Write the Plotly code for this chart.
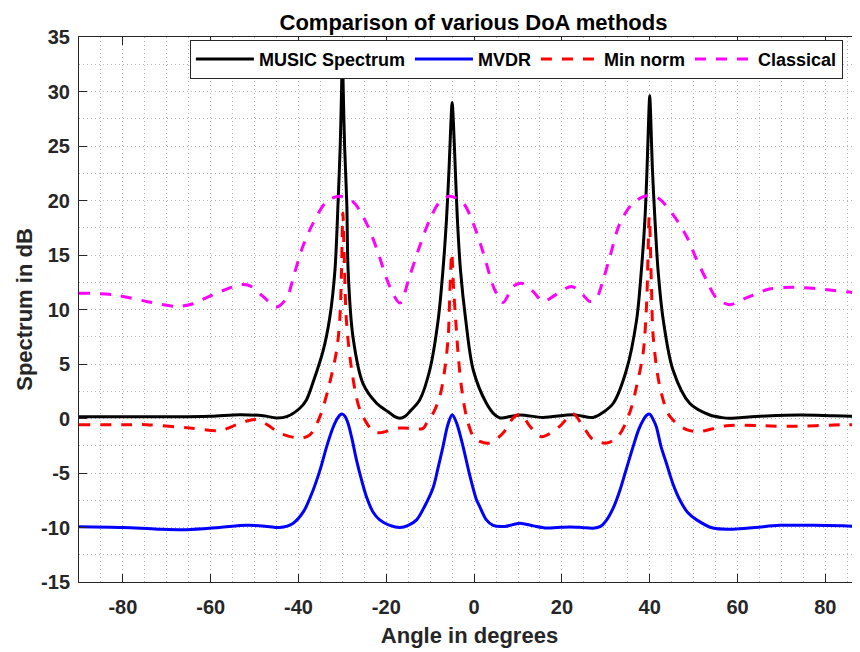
import plotly.graph_objects as go

# ---------------- data ----------------
music_angles = [-90, -80, -70, -60, -53.4, -48, -45, -42.7, -39.7, -38.2, -36.7, -34.4, -32.9,
                -31.7, -31.0, -30.5, -30.2, -30.0, -29.8, -29.5, -29.0, -28.7, -27.6, -25.3,
                -22.2, -19.5, -18.2, -16.9, -15.7, -14.5, -12.4, -10.1, -8.2, -7.1, -6.3, -5.7,
                -5.3, -5.0, -4.7, -4.3, -3.8, -3.1, -1.9, -0.2, 2.8, 4.8, 5.9, 7.2, 10.4, 15.7,
                22.6, 27.1, 29.5, 31.7, 34.7, 37.0, 38.1, 38.9, 39.4, 39.8, 40.0, 40.2, 40.6,
                41.2, 41.9, 43.1, 45.3, 49.1, 53.7, 56.5, 58.2, 60.5, 66.6, 74.2, 82, 90]
music_values = [0.17, 0.17, 0.15, 0.2, 0.35, 0.25, 0.05, 0.17, 0.94, 1.7, 3.3, 6.2, 9.2,
                13.6, 19.7, 25, 30, 33.5, 30, 25, 19.7, 13.6, 7.5, 3.2,
                1.4, 0.6, 0.2, 0.02, 0.2, 0.7, 1.7, 4.45, 9.0, 13.6, 18.2, 23,
                27, 29, 27, 23, 18.2, 13.6, 9.0, 4.45, 1.4, 0.3, 0.05, 0.1, 0.32, 0.1,
                0.35, 0.1, 0.6, 1.4, 4.45, 9.0, 13.6, 18.2, 23, 28, 29.6, 28, 23,
                18.2, 13.6, 9.0, 4.45, 1.4, 0.32, 0.08, 0.02, 0.08, 0.23, 0.32, 0.25, 0.17]

mvdr_angles = [-90, -80, -72, -65.5, -58, -51.8, -47, -44.3, -41.2, -38.8, -36.7, -35, -33.6,
               -32.2, -31.3, -30.6, -30.0, -29.4, -28.7, -27.8, -26.8, -25.6, -24.5, -23,
               -21.5, -19.2, -16.9, -15, -13.1, -11.2, -9.3, -8.2, -7.1, -6.0, -5.0, -4.0,
               -2.5, -1.0, 0.5, 1.3, 2.8, 4.3, 7, 10.4, 13.5, 16.5, 19, 21.8, 24.5, 27.1,
               28.8, 30.2, 31.7, 33.2, 34.7, 36.2, 37.5, 38.5, 39.3, 40.0, 40.8, 41.5, 42.6,
               43.8, 45.3, 46.9, 48.6, 50.7, 54.4, 59.0, 64, 69.6, 77.2, 84, 90]
mvdr_values = [-9.93, -10.0, -10.15, -10.2, -10.0, -9.8, -9.9, -10.0, -9.6, -8.5, -6.6, -4.6, -2.6,
               -0.9, -0.1, 0.3, 0.4, 0.2, -0.45, -1.9, -3.8, -5.7, -7.2, -8.6,
               -9.3, -9.8, -10.0, -9.8, -9.3, -8.0, -6.3, -4.5, -2.6, -0.6, 0.35, -0.4,
               -2.6, -5.2, -7.4, -8.1, -9.3, -9.8, -9.9, -9.6, -9.85, -10.05, -10.0, -9.95, -10.0, -10.07,
               -9.9, -9.3, -8.2, -6.6, -4.6, -2.6, -1.0, -0.15, 0.3, 0.4, -0.1, -0.75, -2.6,
               -4.1, -6.0, -7.5, -8.6, -9.3, -10.05, -10.15, -10.0, -9.8, -9.8, -9.85, -9.93]

minnorm_angles = [-90, -80, -74.6, -64.8, -57.9, -54.1, -51.5, -49.6, -47, -44.3, -39.7, -37.4,
                  -35.1, -32.9, -31.3, -30.6, -30.2, -29.9, -29.5, -29.1, -27.9, -26.0, -23.0,
                  -21.5, -16.9, -11.6, -10.8, -9.3, -7.8, -6.7, -5.9, -5.55, -5.1, -4.7, -4.2,
                  -3.6, -2.9, -1.75, -0.2, 1.3, 3.6, 6.6, 8.9, 10.6, 12.7, 15.3, 19.5, 22.5,
                  24.8, 27.1, 30.2, 32.8, 35.5, 37.0, 38.5, 39.3, 39.9, 40.4, 40.8, 42.3, 44.6,
                  48.4, 51.4, 57.5, 65.1, 71.2, 84.8, 90]
minnorm_values = [-0.57, -0.57, -0.57, -0.87, -1.1, -0.57, -0.2, -0.1, -0.6, -1.33, -1.8, -1.5,
                  0.19, 3.26, 6.3, 9.06, 13.65, 18.85, 13.65, 9.06, 4.5, 0.8, -1.18,
                  -1.3, -0.87, -0.9, -0.41, 0.5, 2.03, 4.48, 7.5, 11.2, 15.2, 12.1, 9.06,
                  5.7, 2.94, 0.19, -1.64, -2.1, -2.25, -1.33, 0.05, 0.4, -0.72, -1.67, -0.72, 0.45,
                  -0.72, -1.94, -2.25, -1.64, 0.6, 2.94, 6.0, 10.6, 18.5, 12.1, 7.5, 2.94, 0.19,
                  -1.03, -1.18, -0.66, -0.66, -0.72, -0.57, -0.55]

classical_angles = [-90, -82.2, -74.6, -67.8, -64.0, -59.5, -55.5, -53.4, -51.1, -48.1, -45.0,
                    -42.7, -40.9, -39.0, -36.7, -33.6, -30.6, -27.6, -24.5, -22.2, -19.2, -16.9,
                    -14.7, -12.4, -10.1, -7.8, -5.5, -2.5, -0.2, 2.1, 4.7, 6.6, 8.9, 10.8, 13.4,
                    15.7, 18.0, 20.5, 22.2, 24.1, 26.4, 27.9, 29.4, 30.9, 33.2, 36.2, 39.3, 41.9,
                    45.3, 48.4, 50.7, 52.9, 55.2, 58.2, 62.0, 67.3, 72.7, 78.8, 87.9, 90]
classical_values = [11.5, 11.36, 10.74, 10.28, 10.53, 11.36, 12.0, 12.27, 12.18, 11.2, 10.23,
                    11.06, 13.35, 15.8, 17.9, 19.9, 20.38, 19.9, 17.9, 15.6, 12.1, 10.6,
                    13.04, 15.8, 18.24, 19.9, 20.38, 19.77, 17.9, 15.18, 11.8, 10.65, 12.12, 12.4, 11.66,
                    10.74, 11.2, 11.85, 12.12, 11.66, 10.74, 11.06, 12.73, 14.8, 17.9, 19.77, 20.44, 20.23,
                    18.7, 16.7, 14.57, 12.73, 11.06, 10.44, 11.06, 11.88, 12.03, 11.88, 11.5, 11.5]

series_names = ["MUSIC Spectrum", "MVDR", "Min norm", "Classical"]
x_tick_values = [-80, -60, -40, -20, 0, 20, 40, 60, 80]
x_tick_labels = ["-80", "-60", "-40", "-20", "0", "20", "40", "60", "80"]
y_tick_values = [-15, -10, -5, 0, 5, 10, 15, 20, 25, 30, 35]
y_tick_labels = ["-15", "-10", "-5", "0", "5", "10", "15", "20", "25", "30", "35"]

# ---------------- figure ----------------
# the page body has an 8px margin, so the figure is 8px smaller than the window
W, H = 852, 644
FONT = "Liberation Sans, Arial, Helvetica, sans-serif"
AX = "#262626"
GRID = "#b4b4b4"
GRIDDASH = "1px,3px"
DASH = "11px,10px"
SMOOTH = 0.9

fig = go.Figure()
fig.add_trace(go.Scatter(x=music_angles, y=music_values, name=series_names[0], mode="lines",
                         line=dict(color="#000000", width=3, shape="spline", smoothing=SMOOTH)))
fig.add_trace(go.Scatter(x=mvdr_angles, y=mvdr_values, name=series_names[1], mode="lines",
                         line=dict(color="#0000ff", width=3, shape="spline", smoothing=SMOOTH)))
fig.add_trace(go.Scatter(x=minnorm_angles, y=minnorm_values, name=series_names[2], mode="lines",
                         line=dict(color="#ff0000", width=3, dash=DASH, shape="spline", smoothing=SMOOTH)))
fig.add_trace(go.Scatter(x=classical_angles, y=classical_values, name=series_names[3], mode="lines",
                         line=dict(color="#ff00ff", width=3, dash=DASH, shape="spline", smoothing=SMOOTH)))

axis_common = dict(
    showline=True, linecolor=AX, linewidth=1,
    ticks="inside", ticklen=8, tickcolor=AX, tickwidth=1,
    tickfont=dict(family=FONT, size=20, color=AX, weight="bold"),
    showgrid=True, gridcolor=GRID, griddash=GRIDDASH, gridwidth=1,
    zeroline=False, automargin=False,
)

fig.update_layout(
    width=W, height=H,
    margin=dict(l=71, r=0, t=29, b=70),
    paper_bgcolor="white", plot_bgcolor="white",
    title=dict(text="Comparison of various DoA methods",
               font=dict(family=FONT, size=22, color="#000000", weight="bold"),
               x=(473.5 - 8) / W, xref="container", xanchor="center",
               y=1 - 14 / H, yref="container", yanchor="middle"),
    legend=dict(orientation="h", x=0.142, xanchor="left", y=0.995, yanchor="top",
                bgcolor="white", bordercolor=AX, borderwidth=1,
                font=dict(family=FONT, size=18, color="#000000", weight="bold"),
                itemwidth=58, tracegroupgap=0),
    showlegend=True,
)

fig.update_xaxes(
    **axis_common,
    range=[-90, 87.9], mirror="ticks",
    tickmode="array", tickvals=x_tick_values, ticktext=x_tick_labels,
    ticklabelstandoff=7,
    minor=dict(dtick=5, tick0=0, showgrid=True, gridcolor=GRID, griddash=GRIDDASH, gridwidth=1, ticks=""),
    title=dict(text="Angle in degrees", standoff=10,
               font=dict(family=FONT, size=22, color=AX, weight="bold")),
)
fig.update_yaxes(
    **axis_common,
    range=[-15, 35], mirror=False,
    tickmode="array", tickvals=y_tick_values, ticktext=y_tick_labels,
    ticklabelstandoff=4,
    minor=dict(dtick=2.5, tick0=0, showgrid=True, gridcolor=GRID, griddash=GRIDDASH, gridwidth=1, ticks=""),
    title=dict(text="Spectrum in dB", standoff=2,
               font=dict(family=FONT, size=22, color=AX, weight="bold")),
)

fig.write_html("out.html")
